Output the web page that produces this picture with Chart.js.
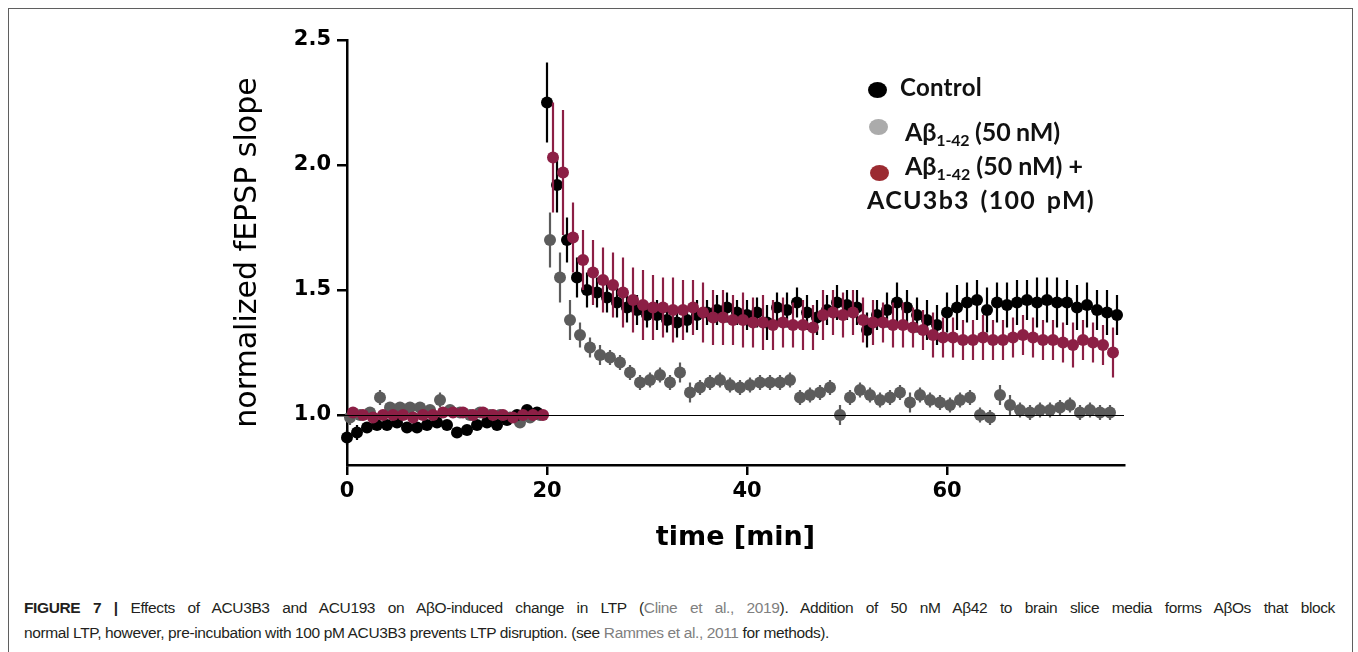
<!DOCTYPE html>
<html><head><meta charset="utf-8">
<script src="https://cdn.jsdelivr.net/npm/chart.js@4.4.1/dist/chart.umd.min.js"></script>
<style>
html,body{margin:0;padding:0;background:#fff;width:1358px;height:652px;overflow:hidden;position:relative;}
#frame{position:absolute;left:8px;top:8px;width:1345px;height:680px;border:1.5px solid #5f5f5f;box-sizing:border-box;}
#wrap{position:absolute;left:0;top:0;width:1358px;height:560px;}
.leg{position:absolute;font-family:Lato,'Open Sans',sans-serif;font-weight:700;font-size:25px;color:#111;white-space:nowrap;line-height:1;}
.leg sub{font-size:16px;vertical-align:-5px;line-height:1;}
.dot{position:absolute;border-radius:50%;}
.cap{position:absolute;left:24px;font-family:'Liberation Sans',Arial,sans-serif;font-size:15.5px;color:#231f20;white-space:nowrap;line-height:1;}
.cap b{font-weight:700;}
.lnk{color:#808080;}
</style>
</head><body>
<div id="frame"></div>
<div id="wrap"><canvas id="c" width="1358" height="560"></canvas></div>

<div class="dot" style="left:868px;top:82px;width:19px;height:16px;background:#000;"></div>
<div class="leg" data-w="82" style="left:900px;top:75px;font-size:24px;">Control</div>
<div class="dot" style="left:869px;top:119px;width:19px;height:16px;background:#ababab;"></div>
<div class="leg" data-w="155" style="left:905px;top:119px;">Aβ<sub>1-42</sub> (50 nM)</div>
<div class="dot" style="left:870px;top:165px;width:19px;height:16px;background:#9b2b31;"></div>
<div class="leg" data-w="178" style="left:905px;top:153px;">Aβ<sub>1-42</sub> (50 nM) +</div>
<div class="leg" data-w="228" style="left:867px;top:187px;">ACU3b3 (100 pM)</div>

<div class="cap" id="cap1" style="top:600px;"><b>FIGURE 7 |</b> Effects of ACU3B3 and ACU193 on AβO-induced change in LTP (<span class="lnk">Cline et al., 2019</span>). Addition of 50 nM Aβ42 to brain slice media forms AβOs that block</div>
<div class="cap" id="cap2" style="top:625px;">normal LTP, however, pre-incubation with 100 pM ACU3B3 prevents LTP disruption. (see <span class="lnk">Rammes et al., 2011</span> for methods).</div>

<script>
// ---- data ----
const minutes = [0,1,2,3,4,5,6,7,8,9,10,11,12,13,14,15,16,17,18,19,20,21,22,23,24,25,26,27,28,29,30,31,32,33,34,35,36,37,38,39,40,41,42,43,44,45,46,47,48,49,50,51,52,53,54,55,56,57,58,59,60,61,62,63,64,65,66,67,68,69,70,71,72,73,74,75,76,77];
const timeOffsetControl = 0;
const timeOffsetAbeta = 0.3;
const timeOffsetAcu = 0.6;

const controlMean = [0.91,0.93,0.95,0.96,0.96,0.97,0.95,0.95,0.96,0.97,
 0.96,0.93,0.94,0.96,0.97,0.96,0.98,1.00,1.02,1.01,
 2.25,1.92,1.70,1.55,1.50,1.49,1.47,1.45,1.43,1.42,
 1.40,1.40,1.38,1.37,1.38,1.40,1.41,1.42,1.43,1.41,
 1.40,1.41,1.37,1.43,1.42,1.45,1.41,1.39,1.42,1.45,
 1.44,1.43,1.34,1.40,1.42,1.45,1.43,1.40,1.38,1.36,
 1.41,1.43,1.45,1.46,1.42,1.45,1.44,1.45,1.46,1.45,
 1.46,1.45,1.45,1.43,1.44,1.42,1.41,1.40];
const controlSem = [0.03,0.03,0.02,0.02,0.02,0.02,0.02,0.02,0.02,0.02,
 0.02,0.02,0.02,0.02,0.02,0.02,0.02,0.02,0.02,0.02,
 0.16,0.11,0.09,0.08,0.07,0.06,0.06,0.06,0.06,0.06,
 0.05,0.06,0.05,0.06,0.05,0.06,0.05,0.06,0.06,0.05,
 0.06,0.06,0.07,0.06,0.07,0.06,0.07,0.07,0.06,0.07,
 0.06,0.07,0.07,0.06,0.07,0.08,0.07,0.07,0.08,0.08,
 0.08,0.09,0.08,0.08,0.09,0.08,0.09,0.09,0.08,0.10,
 0.09,0.10,0.09,0.09,0.09,0.08,0.09,0.08];

const abetaMean = [0.99,1.00,1.01,1.07,1.03,1.03,1.03,1.03,1.02,1.06,
 1.02,1.01,1.00,1.01,1.00,1.00,0.99,0.97,0.99,1.00,
 1.70,1.55,1.38,1.32,1.27,1.24,1.23,1.21,1.17,1.13,
 1.14,1.16,1.13,1.17,1.09,1.11,1.13,1.14,1.12,1.11,
 1.12,1.13,1.13,1.13,1.14,1.07,1.08,1.09,1.11,1.00,
 1.07,1.10,1.08,1.06,1.07,1.09,1.05,1.08,1.06,1.05,
 1.04,1.06,1.07,1.00,0.99,1.08,1.04,1.02,1.01,1.02,
 1.02,1.03,1.04,1.01,1.02,1.01,1.01];
const abetaSem = [0.03,0.02,0.02,0.03,0.02,0.02,0.02,0.02,0.02,0.03,
 0.02,0.02,0.02,0.02,0.02,0.02,0.02,0.02,0.02,0.02,
 0.11,0.10,0.08,0.05,0.04,0.04,0.03,0.03,0.03,0.03,
 0.03,0.03,0.03,0.04,0.04,0.03,0.03,0.03,0.03,0.03,
 0.03,0.03,0.03,0.03,0.03,0.03,0.03,0.03,0.03,0.04,
 0.03,0.03,0.03,0.03,0.03,0.03,0.04,0.03,0.03,0.03,
 0.03,0.03,0.03,0.03,0.03,0.04,0.04,0.03,0.03,0.03,
 0.03,0.03,0.03,0.03,0.03,0.03,0.03];

const acuMean = [1.01,1.00,0.99,1.00,1.00,1.00,0.99,1.00,1.00,1.01,
 1.01,1.01,1.00,1.01,1.00,1.00,0.99,1.00,1.00,1.00,
 2.03,1.97,1.71,1.62,1.57,1.54,1.52,1.49,1.46,1.44,
 1.43,1.43,1.42,1.42,1.43,1.41,1.39,1.39,1.38,1.38,
 1.37,1.37,1.36,1.37,1.36,1.36,1.35,1.40,1.41,1.40,
 1.41,1.38,1.37,1.37,1.36,1.36,1.35,1.34,1.32,1.31,
 1.31,1.30,1.30,1.31,1.30,1.30,1.31,1.32,1.31,1.30,
 1.30,1.29,1.28,1.30,1.29,1.28,1.25];
const acuSem = [0.02,0.02,0.02,0.02,0.02,0.02,0.02,0.02,0.02,0.02,
 0.02,0.02,0.02,0.02,0.02,0.02,0.02,0.02,0.02,0.02,
 0.22,0.25,0.14,0.12,0.13,0.13,0.13,0.14,0.13,0.14,
 0.13,0.12,0.13,0.12,0.11,0.12,0.11,0.11,0.10,0.11,
 0.10,0.11,0.10,0.10,0.09,0.10,0.09,0.10,0.09,0.09,
 0.09,0.09,0.09,0.08,0.09,0.09,0.08,0.08,0.09,0.08,
 0.08,0.08,0.08,0.09,0.08,0.08,0.08,0.08,0.08,0.08,
 0.08,0.08,0.09,0.08,0.08,0.08,0.10];

const xTicks = [0, 20, 40, 60];
const yTicks = [1.0, 1.5, 2.0, 2.5];
const baselineValue = 1.0;

// ---- helpers ----
function toPoints(mean, offset) {
  return mean.map((v, i) => ({ x: minutes[i] + offset, y: v }));
}

const errorBars = {
  id: 'errorBars',
  beforeDatasetDraw(chart, args) {
    const ds = chart.data.datasets[args.index];
    if (!ds.sem) return;
    const ys = chart.scales.y, ctx = chart.ctx;
    ctx.save();
    ctx.strokeStyle = ds.barColor;
    ctx.lineWidth = 2.2;
    args.meta.data.forEach((el, i) => {
      const v = ds.data[i].y, e = ds.sem[i];
      ctx.beginPath();
      ctx.moveTo(el.x, ys.getPixelForValue(v + e));
      ctx.lineTo(el.x, ys.getPixelForValue(v - e));
      ctx.stroke();
    });
    ctx.restore();
  }
};

const baselineLine = {
  id: 'baselineLine',
  afterDatasetsDraw(chart) {
    const { ctx, chartArea, scales } = chart;
    const y = Math.round(scales.y.getPixelForValue(baselineValue)) + 0.5;
    ctx.save();
    ctx.strokeStyle = '#000';
    ctx.lineWidth = 1;
    ctx.beginPath();
    ctx.moveTo(chartArea.left - 7, y);
    ctx.lineTo(chartArea.right, y);
    ctx.stroke();
    ctx.restore();
  }
};

const tickFont = { family: 'DejaVu Sans', weight: 'bold', size: 21 };
const axisGrid = { display: true, drawOnChartArea: false, drawTicks: true, tickLength: 10, color: '#000', lineWidth: 2.5 };
const axisBorder = { display: true, color: '#000', width: 2.5 };

new Chart(document.getElementById('c'), {
  type: 'scatter',
  data: {
    datasets: [
      { label: 'Aβ1-42 (50 nM) + ACU3b3 (100 pM)', data: toPoints(acuMean, timeOffsetAcu), sem: acuSem,
        backgroundColor: '#8c1f45', barColor: '#8c1f45', order: 0 },
      { label: 'Control', data: toPoints(controlMean, timeOffsetControl), sem: controlSem,
        backgroundColor: '#000000', barColor: '#000000', order: 1 },
      { label: 'Aβ1-42 (50 nM)', data: toPoints(abetaMean, timeOffsetAbeta), sem: abetaSem,
        backgroundColor: '#5c5c5c', barColor: '#5c5c5c', order: 2 }
    ].map(d => Object.assign(d, { pointRadius: 6, pointBorderWidth: 0, pointHoverRadius: 6, showLine: false, clip: false }))
  },
  options: {
    responsive: false,
    animation: false,
    devicePixelRatio: 1,
    layout: { padding: { left: 220, right: 234, top: 40, bottom: 0 } },
    plugins: { legend: { display: false }, tooltip: { enabled: false } },
    events: [],
    scales: {
      x: {
        type: 'linear', min: 0, max: 77.7,
        afterBuildTicks: s => { s.ticks = xTicks.map(v => ({ value: v })); },
        afterFit: s => { s.height = 95; s.paddingLeft = 0; s.paddingRight = 0; },
        grid: axisGrid, border: axisBorder,
        ticks: { font: tickFont, color: '#000', padding: 4, maxRotation: 0, autoSkip: false },
        title: { display: true, text: 'time [min]', color: '#000',
          font: { family: 'DejaVu Sans', weight: 'bold', size: 27 }, padding: { top: 0, bottom: 6 } }
      },
      y: {
        type: 'linear', min: 0.8, max: 2.5,
        afterBuildTicks: s => { s.ticks = yTicks.map(v => ({ value: v })); },
        afterFit: s => { s.width = 127; s.paddingTop = 0; s.paddingBottom = 0; },
        grid: axisGrid, border: axisBorder,
        ticks: { font: tickFont, color: '#000', padding: 6, callback: v => Number(v).toFixed(1) },
        title: { display: true, text: 'normalized fEPSP slope', color: '#000',
          font: { family: 'DejaVu Sans', size: 30 }, padding: { top: 10, bottom: 0 } }
      }
    }
  },
  plugins: [errorBars, baselineLine]
});

// fit text widths to the reference: most of the gap through letter spacing, a little through word spacing
function fit() {
  document.querySelectorAll('[data-w]').forEach(el => {
    el.style.letterSpacing = '0px';
    el.style.wordSpacing = '0px';
    const w = el.getBoundingClientRect().width;
    const n = el.textContent.length;
    const sp = (el.textContent.match(/ /g) || []).length;
    const gap = parseFloat(el.dataset.w) - w;
    if (sp > 0) {
      el.style.letterSpacing = (gap * 0.75 / n).toFixed(3) + 'px';
      el.style.wordSpacing = (gap * 0.25 / sp).toFixed(3) + 'px';
    } else {
      el.style.letterSpacing = (gap / n).toFixed(3) + 'px';
    }
  });
  // caption: last line set naturally to its width, first line justified with word spacing
  const c1 = document.getElementById('cap1'), c2 = document.getElementById('cap2');
  c2.style.letterSpacing = '0px';
  const ls = (805 - c2.getBoundingClientRect().width) / c2.textContent.length;
  c2.style.letterSpacing = ls.toFixed(3) + 'px';
  c1.style.letterSpacing = ls.toFixed(3) + 'px';
  c1.style.wordSpacing = '0px';
  const w1 = c1.getBoundingClientRect().width;
  const spaces = (c1.textContent.match(/ /g) || []).length;
  c1.style.wordSpacing = ((1311 - w1) / spaces).toFixed(3) + 'px';
}
fit();
if (document.fonts) document.fonts.ready.then(fit);
</script>
</body></html>
